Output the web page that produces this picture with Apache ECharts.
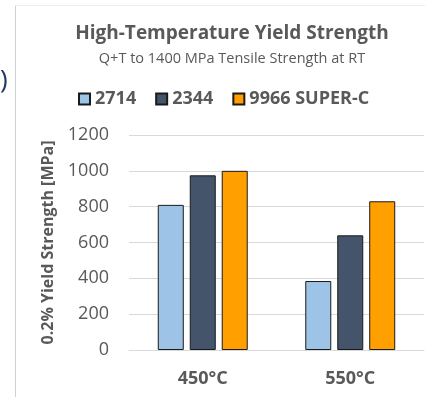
<!DOCTYPE html>
<html><head><meta charset="utf-8">
<script src="https://cdn.jsdelivr.net/npm/echarts@6/dist/echarts.min.js"></script>
<style>html,body{margin:0;padding:0;background:#fff}#c{width:425px;height:397px}</style>
</head><body><div id="c"></div>
<script>
const categories = ['450°C', '550°C'];
const seriesNames = ['2714', '2344', '9966 SUPER-C'];
const values2714 = [810, 385];
const values2344 = [975, 640];
const values9966 = [1000, 830];
const yTicks = [0, 200, 400, 600, 800, 1000, 1200];

const colors = ['#9dc3e6', '#44546a', '#ffa000'];
const dataSets = [values2714, values2344, values9966];
const FONT = 'Open Sans';

const chart = echarts.init(document.getElementById('c'));
chart.setOption({
  animation: false,
  textStyle: { fontFamily: FONT },
  title: [
    { text: 'High-Temperature Yield Strength', left: 227, textAlign: 'center', top: 19,
      textStyle: { fontSize: 19, fontWeight: 'bold', color: '#595959', fontFamily: FONT } },
    { text: 'Q+T to 1400 MPa Tensile Strength at RT', left: 227, textAlign: 'center', top: 46,
      textStyle: { fontSize: 14.5, fontWeight: 'normal', color: '#595959', fontFamily: FONT } }
  ],
  legend: {
    top: 85, left: 73,
    itemWidth: 11, itemHeight: 11, itemGap: 19,
    icon: 'rect',
    textStyle: { fontSize: 18, fontWeight: 'bold', color: '#595959', fontFamily: FONT, padding: [0, 0, 0, 0] },
    data: seriesNames
  },
  grid: { left: 129, right: 1, top: 135, bottom: 47 },
  xAxis: {
    type: 'category', data: categories,
    axisLine: { lineStyle: { color: '#d9d9d9' } },
    axisTick: { show: false },
    axisLabel: { fontSize: 18, fontWeight: 'bold', color: '#595959', margin: 20 }
  },
  yAxis: {
    type: 'value', min: yTicks[0], max: yTicks[yTicks.length - 1], interval: 200,
    name: '0.2% Yield Strength [MPa]', nameLocation: 'middle', nameGap: 72,
    nameTextStyle: { fontSize: 16, fontWeight: 'bold', color: '#595959' },
    axisLine: { show: false }, axisTick: { show: false },
    axisLabel: { fontSize: 18, color: '#595959', margin: 20, formatter: v => String(v) },
    splitLine: { lineStyle: { color: '#d9d9d9' } }
  },
  series: seriesNames.map((n, i) => ({
    name: n, type: 'bar', data: dataSets[i],
    barWidth: 26, barGap: '23%', barCategoryGap: '39%',
    itemStyle: { color: colors[i], borderColor: '#1a1a1a', borderWidth: 1 }
  })),
  graphic: [
    { type: 'line', shape: { x1: 15.5, y1: 5, x2: 15.5, y2: 397 }, style: { stroke: '#d0d0d0', lineWidth: 1 } },
    { type: 'line', shape: { x1: 15, y1: 5.5, x2: 425, y2: 5.5 }, style: { stroke: '#ececec', lineWidth: 1 } },
    { type: 'text', left: 0, top: 68, style: { text: ')', fontSize: 26, fill: '#1f3864', fontFamily: FONT } }
  ]
});
</script></body></html>
